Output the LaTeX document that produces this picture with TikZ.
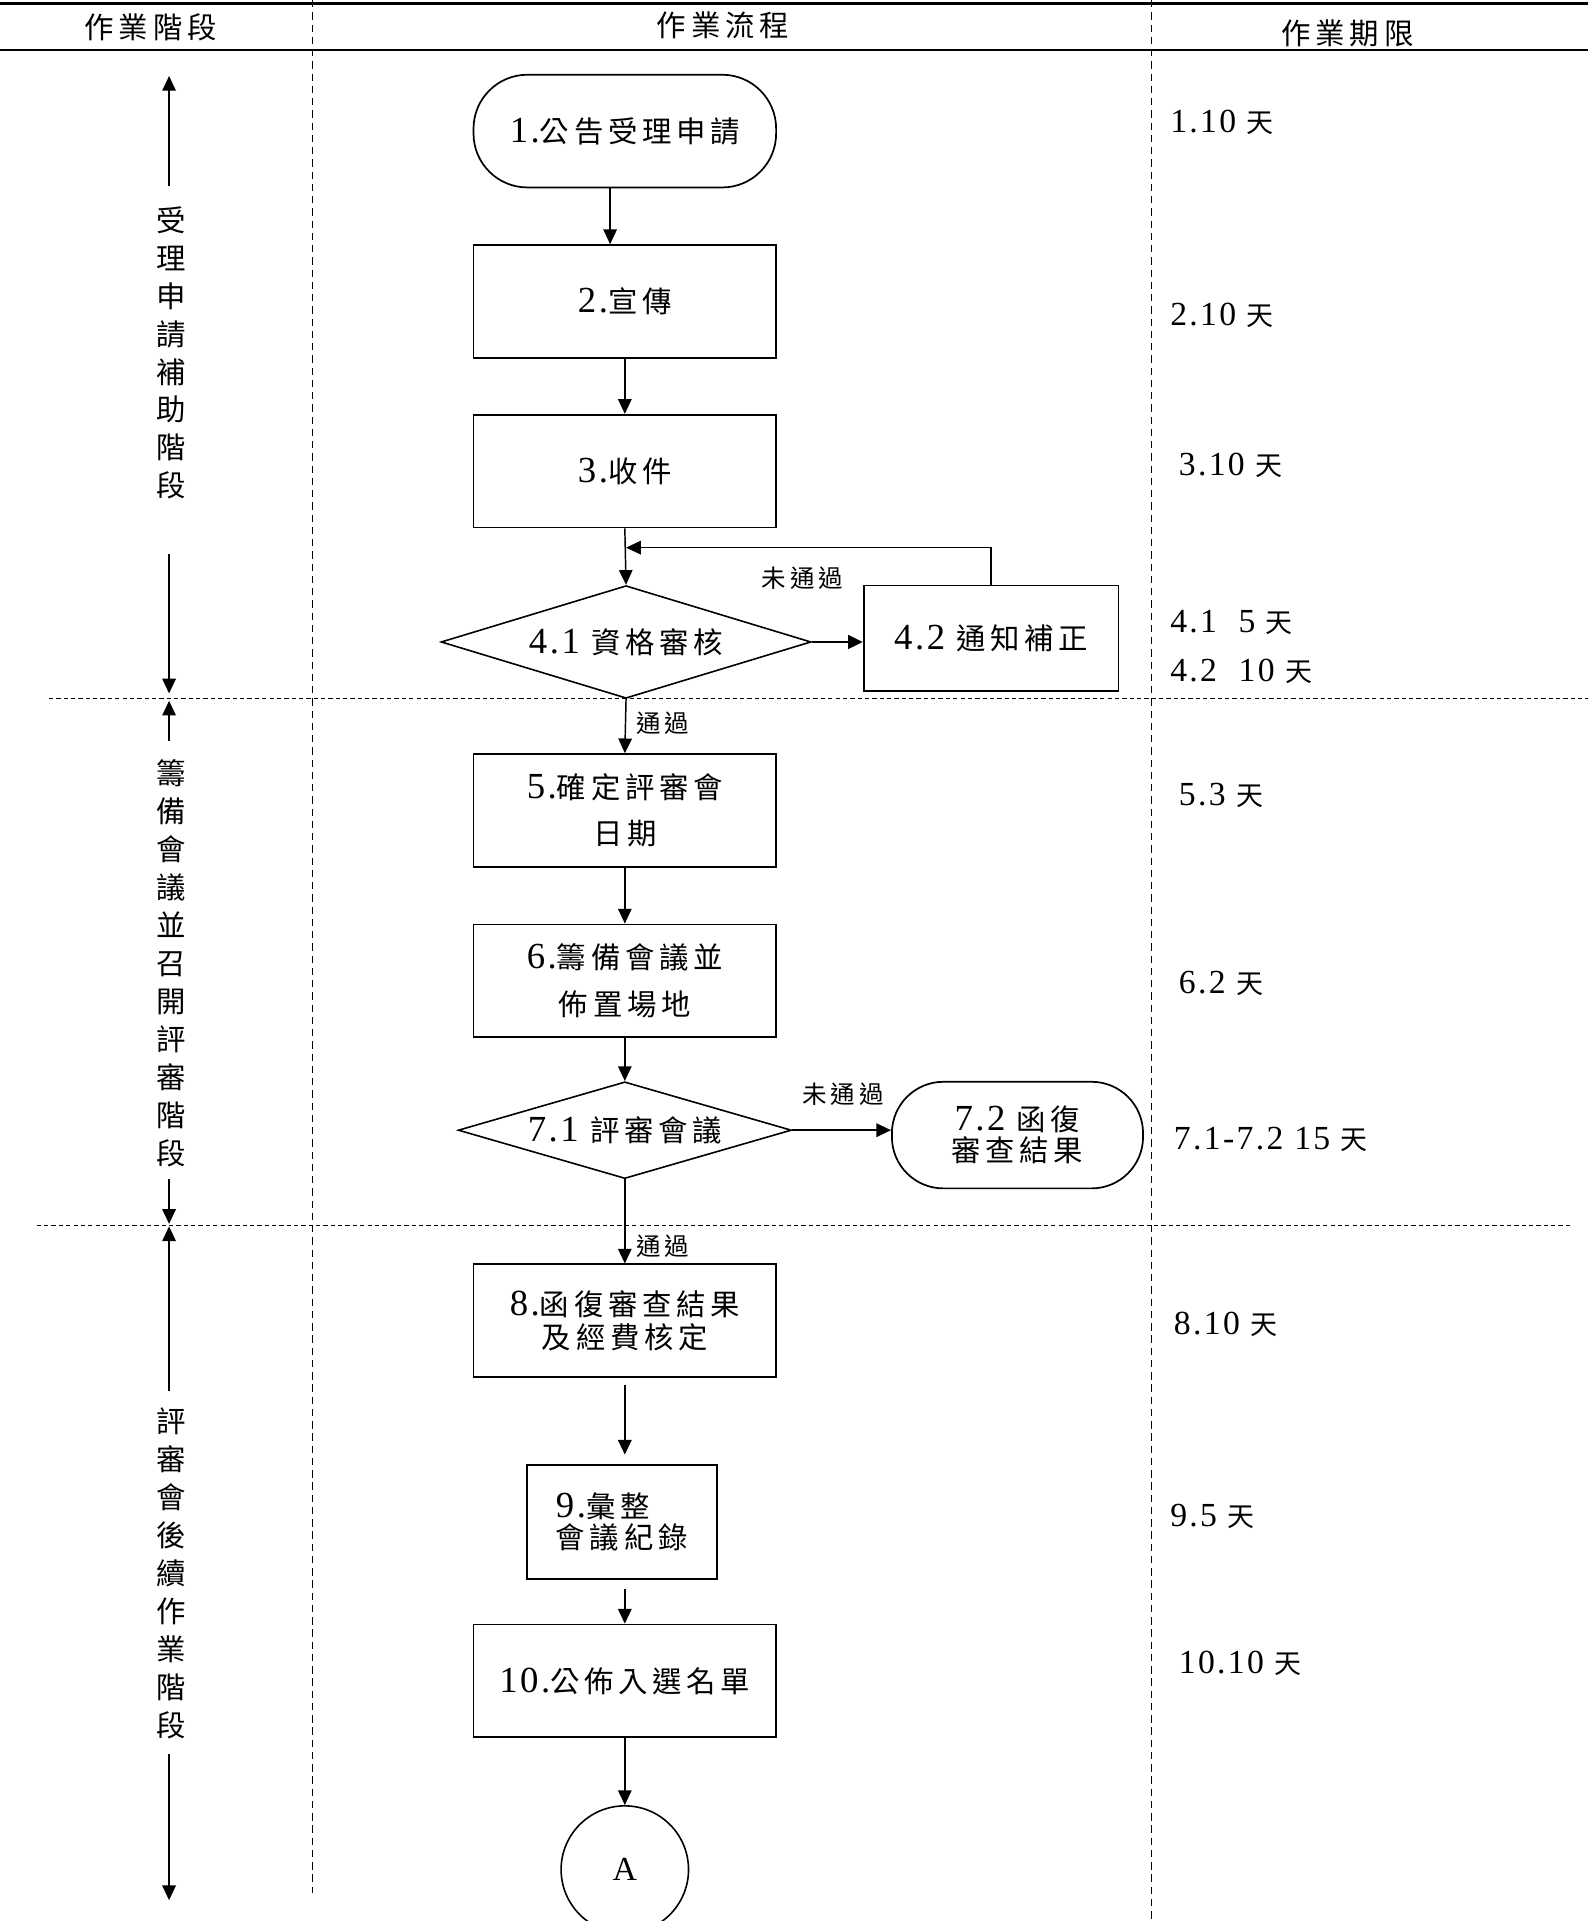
\documentclass[tikz,border=0pt]{standalone}
\usepackage{fontspec}
\setmainfont[LetterSpace=16]{Noto Sans CJK TC}
\newfontfamily\lf[Scale=1.25,LetterSpace=7]{Liberation Serif}
\usetikzlibrary{arrows.meta,shapes.geometric}
\begin{document}
\begin{tikzpicture}[x=1pt,y=-1pt,
  every node/.style={inner sep=0pt},
  box/.style={draw, line width=1.4pt, minimum width=247pt, minimum height=92pt, align=center, font=\fontsize{24}{38}\selectfont},
  term/.style={box, rounded corners=44pt},
  dia/.style={draw, diamond, line width=1.3pt, align=center, font=\fontsize{24}{30}\selectfont},
  arr/.style={line width=1.2pt, -{Triangle[length=12pt,width=11pt]}},
  lab/.style={font=\fontsize{20}{20}\selectfont},
  stage/.style={align=center, font=\fontsize{24}{31}\selectfont},
  due/.style={anchor=west, font=\fontsize{22}{22}\selectfont},
  hdr/.style={font=\fontsize{24}{24}\selectfont},
  vdash/.style={line width=1pt, dash pattern=on 6pt off 4pt},
  hdash/.style={line width=1pt, dash pattern=on 3.5pt off 2.5pt}]
\useasboundingbox (0,0) rectangle (1296,1568);
\fill[white] (0,0) rectangle (1296,1568);

% header
\draw[line width=2pt] (0,3) -- (1296,3);
\draw[line width=2pt] (0,41) -- (1296,41);
\draw[vdash] (255,0) -- (255,1545);
\draw[vdash] (940,0) -- (940,1568);
\node[hdr] (h1) at (123,22) {作業階段};
\node[hdr] (h2) at (590,21) {作業流程};
\node[hdr] (h3) at (1100,27) {作業期限};

% phase separators
\draw[hdash] (40,570) -- (1296,570);
\draw[hdash] (30,1000) -- (1283,1000);

% stage labels
\node[stage] (s1) at (140,288) {受\\理\\申\\請\\補\\助\\階\\段};
\node[stage] (s2) at (140,786) {籌\\備\\會\\議\\並\\召\\開\\評\\審\\階\\段};
\node[stage] (s3) at (140,1284) {評\\審\\會\\後\\續\\作\\業\\階\\段};
\coordinate (s1a) at (138,152); \coordinate (s1t) at (138,62);
\coordinate (s1b) at (138,452); \coordinate (s1d) at (138,566);
\coordinate (s2a) at (138,605); \coordinate (s2t) at (138,572);
\coordinate (s2b) at (138,962); \coordinate (s2d) at (138,999);
\coordinate (s3a) at (138,1135); \coordinate (s3t) at (138,1001);
\coordinate (s3b) at (138,1432); \coordinate (s3d) at (138,1551);
\draw[arr] (s1a) -- (s1t);
\draw[arr] (s1b) -- (s1d);
\draw[arr] (s2a) -- (s2t);
\draw[arr] (s2b) -- (s2d);
\draw[arr] (s3a) -- (s3t);
\draw[arr] (s3b) -- (s3d);

% flow nodes
\node[term] (t1) at (510,107) {{\lf 1.}公告受理申請};
\node[box] (b2) at (510,246) {{\lf 2.}宣傳};
\node[box] (b3) at (510,384.5) {{\lf 3.}收件};
\node[dia, aspect=3.3, minimum width=302pt, minimum height=92pt] (d41) at (511,524) {{\lf 4.1} 資格審核};
\node[box, minimum width=208pt, minimum height=86pt] (b42) at (809,521) {{\lf 4.2} 通知補正};
\node[box] (b5) at (510,661.5) {{\lf 5.}確定評審會\\日期};
\node[box] (b6) at (510,800.5) {{\lf 6.}籌備會議並\\佈置場地};
\node[dia, aspect=3.4, minimum width=272pt, minimum height=79pt] (d71) at (510,922.5) {{\lf 7.1} 評審會議};
\node[box, rounded corners=42pt, minimum width=205pt, minimum height=87pt, font=\fontsize{24}{25}\selectfont] (t72) at (830.5,926.5) {{\lf 7.2} 函復\\審查結果};
\node[box, font=\fontsize{24}{27}\selectfont] (b8) at (510,1078) {{\lf 8.}函復審查結果\\及經費核定};
\node[box, minimum width=155pt, minimum height=93pt, align=left, font=\fontsize{24}{25}\selectfont] (b9) at (507.5,1242.5) {{\lf 9.}彙整\\會議紀錄};
\node[box] (b10) at (510,1372) {{\lf 10.}公佈入選名單};
\node[draw, circle, line width=1.3pt, minimum size=104pt, font=\fontsize{22}{22}\selectfont] (cA) at (510,1526) {\lf A};

% connectors
\draw[arr] ([xshift=-12pt]t1.south) -- ([xshift=-12pt]b2.north);
\draw[arr] (b2.south) -- (b3.north);
\draw[arr] (b3.south) -- (d41.north);
\coordinate (j1) at (511,447);
\draw[arr] (b42.north) |- (j1);
\draw[line width=2.4pt, -{Triangle[length=12pt,width=11pt]}] (d41.east) -- (d41.east -| b42.west);
\node[lab] (l1) at (655,472) {未通過};
\draw[arr] (d41.south) -- (b5.north);
\node[lab] (l2) at (541,590) {通過};
\draw[arr] (b5.south) -- (b6.north);
\draw[arr] (b6.south) -- (d71.north);
\draw[arr, line width=1.6pt] (d71.east) -- (d71.east -| t72.west);
\node[lab] (l3) at (688,893) {未通過};
\draw[arr] (d71.south) -- (b8.north);
\node[lab] (l4) at (541,1017) {通過};
\draw[arr, line width=1.6pt, shorten <=6pt, shorten >=8pt] (b8.south) -- (b8.south |- b9.north);
\draw[arr, shorten <=7pt] (b9.south -| b10.north) -- (b10.north);
\draw[arr] (b10.south) -- (cA.north);

% durations
\node[due] (r1) at (955,100) {{\lf 1.10} 天};
\node[due] (r2) at (955,257) {{\lf 2.10} 天};
\node[due] (r3) at (962,380) {{\lf 3.10} 天};
\node[due] (r41) at (955,508) {{\lf 4.1\ \ 5} 天};
\node[due] (r42) at (955,548) {{\lf 4.2\ \ 10} 天};
\node[due] (r5) at (962,649) {{\lf 5.3} 天};
\node[due] (r6) at (962,803) {{\lf 6.2} 天};
\node[due] (r7) at (958,930) {{\lf 7.1-7.2 15} 天};
\node[due] (r8) at (958,1081) {{\lf 8.10} 天};
\node[due] (r9) at (955,1238) {{\lf 9.5} 天};
\node[due] (r10) at (962,1358) {{\lf 10.10} 天};
\end{tikzpicture}
\end{document}
